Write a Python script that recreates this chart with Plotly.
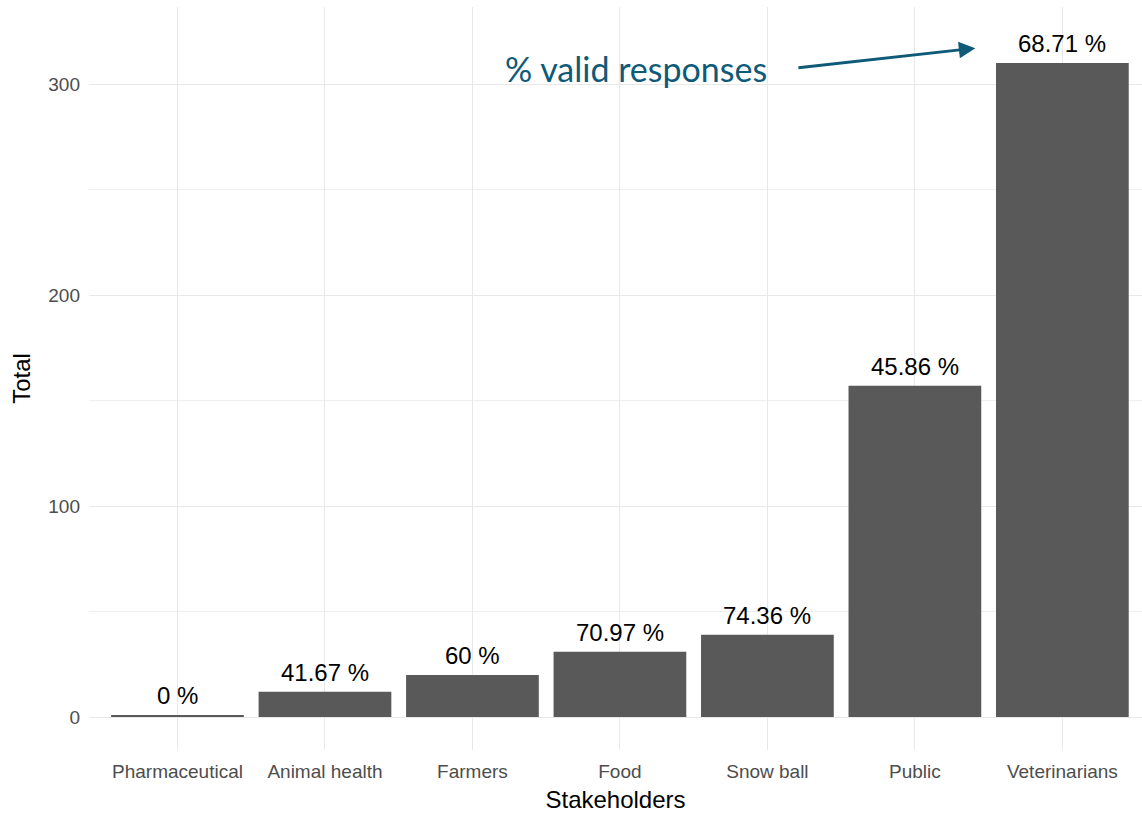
import plotly.graph_objects as go

categories = ["Pharmaceutical", "Animal health", "Farmers", "Food", "Snow ball", "Public", "Veterinarians"]
totals = [1, 12, 20, 31, 39, 157, 310]
valid_pct = ["0 %", "41.67 %", "60 %", "70.97 %", "74.36 %", "45.86 %", "68.71 %"]

fig = go.Figure()
fig.add_trace(go.Bar(
    x=list(range(len(categories))), y=totals, width=0.9,
    marker=dict(color="#595959", line=dict(width=0)),
    hoverinfo="skip", showlegend=False,
))

annotations = []
for i, (v, lab) in enumerate(zip(totals, valid_pct)):
    annotations.append(dict(
        x=i, y=v, xref="x", yref="y", text=lab, showarrow=False,
        yanchor="bottom", yshift=4,
        font=dict(family="Liberation Sans, Arial", size=24, color="#000000"),
    ))

teal = "#0f5a78"
annotations.append(dict(
    x=5.41, y=317, xref="x", yref="y", ax=4.2, ay=307.6, axref="x", ayref="y",
    text="", showarrow=True, arrowhead=2, arrowsize=1.1, arrowwidth=3, arrowcolor=teal,
))
annotations.append(dict(
    x=3.106, y=307.5, xref="x", yref="y", text="% valid responses", showarrow=False,
    font=dict(family="Lato", size=34, color=teal),
))

fig.update_layout(
    width=1142, height=814,
    margin=dict(l=89, r=0, t=7, b=64),
    paper_bgcolor="white", plot_bgcolor="white",
    annotations=annotations,
    font=dict(family="Liberation Sans, Arial"),
    xaxis=dict(
        range=[-0.6, 6.54], tickmode="array", tickvals=list(range(len(categories))),
        ticktext=categories, showgrid=True, gridcolor="#e8e8e8", gridwidth=1.3,
        zeroline=False, showline=False, ticks="",
        tickfont=dict(size=19, color="#4d4d4d"),
        ticklabelstandoff=8,
        title=dict(text="Stakeholders", font=dict(size=24, color="#000000"), standoff=10),
    ),
    yaxis=dict(
        range=[-15.6, 336.5], tickmode="array", tickvals=[0, 100, 200, 300],
        showgrid=True, gridcolor="#e8e8e8", gridwidth=1.3,
        minor=dict(tickvals=[50, 150, 250], showgrid=True, gridcolor="#efefef", gridwidth=1),
        zeroline=False, showline=False, ticks="",
        tickfont=dict(size=19, color="#4d4d4d"),
        ticklabelstandoff=8,
        title=dict(text="Total", font=dict(size=24, color="#000000"), standoff=10),
    ),
)

fig.write_html("out.html")
